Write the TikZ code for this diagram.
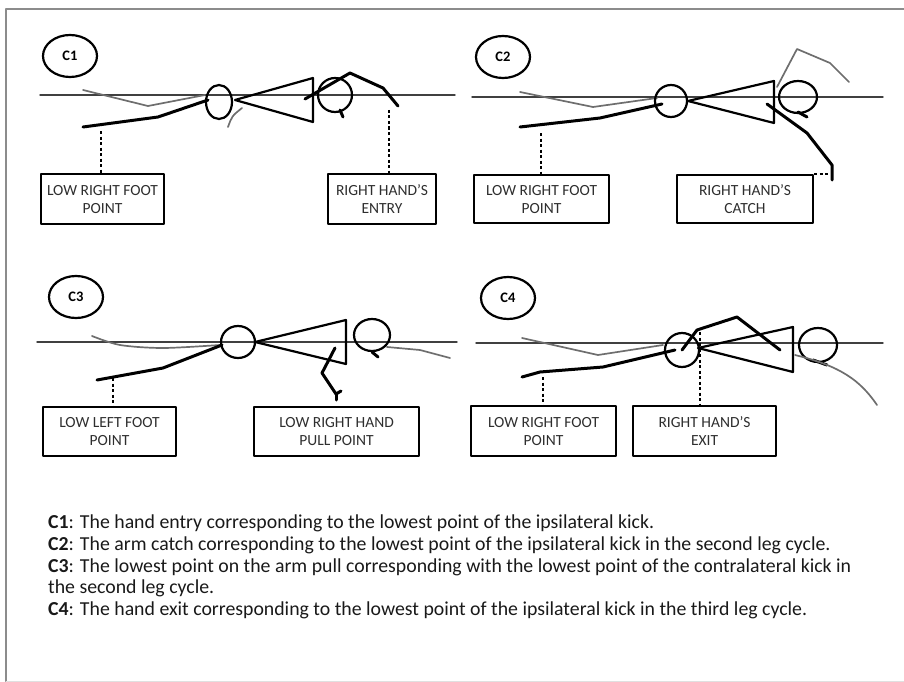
\documentclass[tikz,border=0pt]{standalone}
\usepackage{fontspec}
\setmainfont{Carlito}
\usepackage{tikz}
\usetikzlibrary{shapes.geometric}
\definecolor{framegray}{HTML}{8C8C8C}
\definecolor{limbgray}{HTML}{6E6E6E}
\definecolor{labelgray}{HTML}{2E2E2E}

\begin{document}
\begin{tikzpicture}[x=1pt,y=-1pt,line join=round,line cap=round,
  water/.style={draw=black!75,line width=1.4pt},
  limb/.style={line width=3pt},
  ghost/.style={draw=limbgray,line width=1.7pt},
  part/.style={line width=2.2pt},
  lead/.style={line width=1.5pt,line cap=butt,dash pattern=on 3pt off 2.5pt},
  box/.style={draw,line width=2.1pt,minimum height=50pt,inner sep=0pt,align=center,
    text=labelgray,font=\fontsize{15.5}{18}\selectfont},
  tag/.style={draw,ellipse,line width=2.2pt,minimum width=54pt,minimum height=42pt,
    inner sep=0pt,font=\fontsize{14.5}{14.5}\selectfont\bfseries},
  note/.style={anchor=base west,inner sep=0pt,font=\fontsize{19.8}{22}\selectfont,text=black!90}]
  \useasboundingbox (0,0) rectangle (904,682);
  \draw[framegray,line width=2.4pt,line cap=butt] (6,682) -- (6,9) -- (904,9);
  \draw[black!12,line width=1pt] (6,681) -- (904,681);

  % C1
  \node[tag] (c1) at (70,56) {C1};
  \draw[water] (40,95) -- (455,95);
  \draw[ghost] (83,90) -- (148,106) -- (205,95);
  \draw[limb] (83,127) -- (158,117) -- (208,100);
  \draw[part] (219,102) circle[x radius=13,y radius=17];
  \draw[ghost] (228,127) .. controls (232,116) .. (242,108);
  \draw[part] (235,100) -- (313,78) -- (313,122) -- cycle;
  \draw[part] (335,95) circle[radius=17]; \draw[limb] (340,110) -- (343,117);
  \draw[limb] (305,99) -- (350,73) -- (383,88) -- (398,106);
  \coordinate (c1foot) at (101,131); \coordinate (c1hand) at (389,110);
  \node[box,minimum width=123pt,anchor=north west] (c1footbox) at (40,173) {LOW RIGHT FOOT\\POINT};
  \node[box,minimum width=108pt,anchor=north west] (c1handbox) at (327,173) {RIGHT HAND’S\\ENTRY};
  \draw[lead] (c1foot) -- (c1foot |- c1footbox.north);
  \draw[lead] (c1hand) -- (c1hand |- c1handbox.north);

  % C2
  \node[tag] (c2) at (503,57) {C2};
  \draw[water] (472,97) -- (883,97);
  \draw[ghost] (520,92) -- (593,107) -- (657,98);
  \draw[limb] (520,127) -- (600,118) -- (662,104);
  \draw[part] (671,101) circle[radius=16];
  \draw[part] (688,101) -- (774,81) -- (774,123) -- cycle;
  \draw[part] (798,97) circle[x radius=19,y radius=16]; \draw[limb] (798,112) -- (807,117);
  \draw[ghost] (777,87) -- (797,49) -- (830,63) -- (849,82);
  \draw[limb] (767,104) -- (807,133) -- (832,165) -- (832,180);
  \coordinate (c2foot) at (541,133); \coordinate (c2hand) at (830,174);
  \node[box,minimum width=135pt,minimum height=48pt,anchor=north west] (c2footbox) at (473,174) {LOW RIGHT FOOT\\POINT};
  \node[box,minimum width=136pt,minimum height=48pt,anchor=north west] (c2handbox) at (676,174) {RIGHT HAND’S\\CATCH};
  \draw[lead] (c2foot) -- (c2foot |- c2footbox.north);
  \draw[lead] (c2handbox.north east) -- (c2hand);

  % C3
  \node[tag] (c3) at (76,297) {C3};
  \draw[water] (37,342) -- (457,342);
  \draw[ghost] plot[smooth] coordinates {(92,336) (120,345) (163,348) (220,345)};
  \draw[ghost] (387,347) -- (420,350) -- (450,358);
  \draw[limb] (97,380) -- (163,368) -- (222,345);
  \draw[part] (238,342) circle[x radius=17,y radius=16];
  \draw[part] (255,342) -- (346,320) -- (346,364) -- cycle;
  \draw[part] (372,335) circle[x radius=18,y radius=16]; \draw[limb] (372,352) -- (378,357);
  \draw[limb] (335,348) -- (322,373) -- (336,394) -- (341,391);
  \draw[limb] (336,394) -- (336,400);
  \coordinate (c3foot) at (113,378);
  \node[box,minimum width=133pt,minimum height=49pt,anchor=north west] (c3footbox) at (42,406) {LOW LEFT FOOT\\POINT};
  \node[box,minimum width=165pt,minimum height=49pt,anchor=north west] (c3handbox) at (253,406) {LOW RIGHT HAND\\PULL POINT};
  \draw[lead] (c3foot) -- (c3foot |- c3footbox.north);

  % C4
  \node[tag] (c4) at (508,298) {C4};
  \draw[water] (476,343) -- (883,343);
  \draw[ghost] (522,338) -- (598,355) -- (663,345);
  \draw[limb] (522,377) -- (540,372) -- (603,367) -- (675,350);
  \draw[part] (682,350) circle[radius=17];
  \draw[part] (698,348) -- (793,327) -- (793,372) -- cycle;
  \draw[part] (818,345) circle[x radius=19,y radius=17]; \draw[limb] (813,360) -- (827,365);
  \draw[ghost] (795,355) .. controls (840,366) and (860,380) .. (877,405);
  \draw[limb] (682,350) -- (697,330) -- (737,317) -- (780,350);
  \coordinate (c4foot) at (543,377); \coordinate (c4hand) at (700,332);
  \node[box,minimum width=145pt,anchor=north west] (c4footbox) at (470,405) {LOW RIGHT FOOT\\POINT};
  \node[box,minimum width=143pt,anchor=north west] (c4handbox) at (632,405) {RIGHT HAND’S\\EXIT};
  \draw[lead] (c4foot) -- (c4foot |- c4footbox.north);
  \draw[lead] (c4hand) -- (c4hand |- c4handbox.north);

  % key
  \node[note] (k1) at (48,528) {\textbf{C1}: The hand entry corresponding to the lowest point of the ipsilateral kick.};
  \node[note] (k2) at (48,550) {\textbf{C2}: The arm catch corresponding to the lowest point of the ipsilateral kick in the second leg cycle.};
  \node[note] (k3) at (48,572) {\textbf{C3}: The lowest point on the arm pull corresponding with the lowest point of the contralateral kick in};
  \node[note] (k3b) at (48,593) {the second leg cycle.};
  \node[note] (k4) at (48,615) {\textbf{C4}: The hand exit corresponding to the lowest point of the ipsilateral kick in the third leg cycle.};
\end{tikzpicture}
\end{document}
